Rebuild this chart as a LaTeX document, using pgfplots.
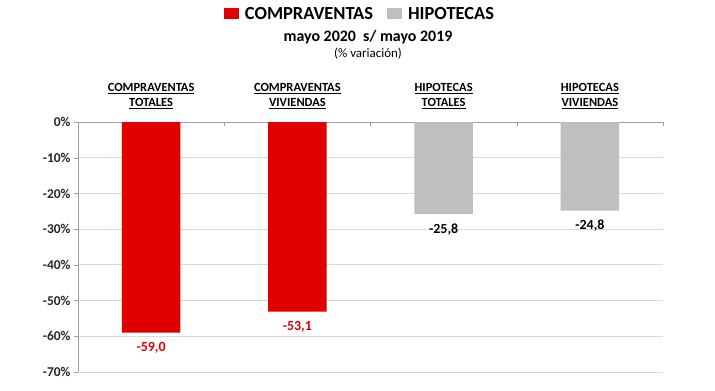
\documentclass[border=0pt]{standalone}
\usepackage{pgfplots}
\pgfplotsset{compat=1.18}
\usepackage{fontspec}
\setmainfont{Carlito}
\definecolor{cvred}{RGB}{224,0,0}
\definecolor{hpgray}{RGB}{191,191,191}
\definecolor{gridc}{RGB}{217,217,217}
\definecolor{axc}{RGB}{160,160,160}
\definecolor{txt}{RGB}{38,38,38}
\begin{document}
\begin{tikzpicture}
\begin{axis}[
  at={(0,0)}, anchor=south west,
  scale only axis, width=585bp, height=250bp,
  xmin=-0.5, xmax=3.5, ymin=-70, ymax=0,
  axis x line=top, axis y line=left,
  axis line style={draw=axc, -},
  ybar, bar width=0.4, bar shift=0pt,
  xtick={0.5,1.5,2.5,3.5}, xticklabels={},
  major tick length=4bp, tick align=outside,
  x tick style={draw=axc, yshift=-4bp},
  y tick style={draw=axc},
  extra x ticks={0,1,2,3},
  extra x tick labels={{\underline{COMPRAVENTAS}\\\underline{TOTALES}},{\underline{COMPRAVENTAS}\\\underline{VIVIENDAS}},{\underline{HIPOTECAS}\\\underline{TOTALES}},{\underline{HIPOTECAS}\\\underline{VIVIENDAS}}},
  extra x tick style={tick style={draw=none}},
  xticklabel style={font=\fontsize{12.5}{15}\selectfont\bfseries, align=center, text=black, yshift=6bp},
  ytick={-70,-60,-50,-40,-30,-20,-10,0},
  yticklabels={-70\%,-60\%,-50\%,-40\%,-30\%,-20\%,-10\%,0\%},
  yticklabel style={font=\fontsize{13.5}{15}\selectfont\bfseries, text=txt},
  ymajorgrids, grid style={draw=gridc, line width=0.8pt},
  /pgf/number format/assume math mode=true,
  nodes near coords={\pgfmathprintnumber[fixed, fixed zerofill, precision=1, use comma]{\pgfplotspointmeta}},
  nodes near coords align=vertical,
  every node near coord/.append style={font=\fontsize{14}{16}\selectfont\bfseries, yshift=-6bp},
  legend style={at={(0.482,1)}, anchor=center, yshift=108bp, draw=none, fill=none,
    font=\fontsize{18.5}{20}\selectfont\bfseries, inner sep=0pt,
    /tikz/every odd column/.append style={column sep=4bp},
    /tikz/every even column/.append style={column sep=12bp}},
  legend columns=2,
  legend image code/.code={\fill[#1] (0bp,-5bp) rectangle (15bp,6bp);},
  clip=false,
]
\addplot[fill=cvred, draw=none, every node near coord/.append style={text=cvred}]
  coordinates {(0,-59.0) (1,-53.1)};
\addplot[fill=hpgray, draw=none, every node near coord/.append style={text=black}]
  coordinates {(2,-25.8) (3,-24.8)};
\legend{COMPRAVENTAS, HIPOTECAS}
\end{axis}
\node[font=\fontsize{16}{18}\selectfont\bfseries, text=black] at (290bp,335bp) {mayo 2020\ \ s/ mayo 2019};
\node[font=\fontsize{13}{15}\selectfont, text=black] at (290bp,318bp) {(\% variación)};
\pgfresetboundingbox
\path[use as bounding box] (-78bp,-19bp) rectangle (637bp,372bp);
\end{tikzpicture}
\end{document}
